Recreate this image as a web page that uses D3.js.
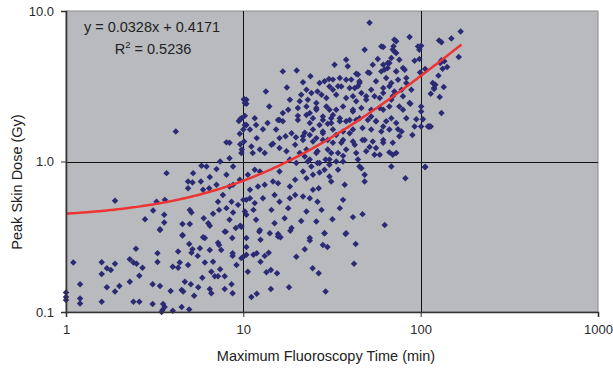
<!DOCTYPE html>
<html><head><meta charset="utf-8">
<script src="https://cdn.jsdelivr.net/npm/d3@7"></script>
<style>
body{margin:0;background:#fff;}
svg{display:block;font-family:"Liberation Sans",Arial,Helvetica,sans-serif;}
</style></head>
<body><svg id="c" width="613" height="369"></svg>
<script>
// Maximum fluoroscopy time (min) and peak skin dose (Gy), one pair per procedure
const timeMin = [
1,1,1,1.1,1.2,1.2,1.2,1.59,1.59,1.59,1.7,1.7,1.79,1.89,1.89,2.0,2.29,2.29,2.4,2.48,2.5,2.4,2.59,2.59,2.7,3.08,3.08,3.28,3.28,3.39,3.39,3.53,3.6,3.5,3.46,3.89,4.0,4.0,4.29,4.29,4.38,4.54,4.49,4.58,4.49,4.68,4.88,4.95,4.95,5.06,5.17,5.1,5.28,5.53,5.57,5.69,5.87,6.07,6.07,6.47,6.47,6.6,6.6,6.75,6.9,7.2,7.3,7.2,7.4,7.5,7.85,7.85,7.96,8.66,8.7,8.7,8.58,8.7,9.15,9.75,10.0,10.4,10.4,10.6,
10.4,11.1,11.9,11.4,11.9,12.5,13.2,13.9,13.5,14.3,15.5,14.3,18.1,12.3,12.5,14.1,15.7,16.2,18.4,19.9,22.2,23.7,24.6,26.6,28.1,29.8,28.7,29.1,37.7,43,42.1,
4.16,1.89,3.69,5.21,5.81,6.2,7.4,7.06,8.36,8.75,8.03,8.36,9.55,9.75,9.44,4.88,5.17,5.76,6.47,6.42,4.88,5.93,7.06,8.03,8.36,8.75,9.55,3.61,3.24,3.1,2.79,3.58,3.58,3.39,4.99,5.1,4.54,4.99,5.98,6.34,6.47,6.75,7.3,8.03,8.36,8.75,9.06,9.34,9.6,8.58,7.67,7.2,5.93,4.54,7.85,10.4,9.8,9.6,
16.7,20.3,23.7,26.9,31.3,38,43.3,56,61.5,74.5,100.6,110,89.8,10.9,12.9,11.9,10.1,14.7,16.0,17.3,18.7,19.8,21.7,23.7,25.8,28.1,29.9,33.4,35.7,39.8,42.5,48.3,51.5,56,54.9,61.5,66.6,72.8,11.3,13.2,16.0,19.6,20.8,22.2,25.8,29.1,31.3,36.5,68.3,46.3,48.3,48.3,82,106,10.6,11.6,12.4,10.9,12.1,13.2,14.7,15.7,18.3,19.6,21.7,22.7,24.7,26.9,30.6,34.2,31.3,37.3,24.7,26.6,10,10.9,11.6,12.9,15,16,18.3,19.6,21.7,23.7,26.2,36.5,10.2,11.4,14.4,17.9,22.7,27.6,35,41.5,47,31.8,25.8,21.2,17.1,15,11.8,10.4,62.7,18.7,12.4,9.75,15.7,28.7,38,23.7,
10.4,10,11.8,13.7,15.3,16,14.4,11.1,12.4,16,17.5,18.3,19.9,23.1,24.2,26.2,28.7,30.6,33.4,
51.5,86.6,100.6,98.3,71.1,70.3,71.1,61.5,48.3,57.3,65.2,68.3,75.8,92.4,98.3,38,38.8,32.7,62.7,72.8,79.5,16.7,20,23.9,21.7,26.9,30.4,35,38,43.3,50.4,45.2,56,63.9,68.3,74.5,83,88.6,99.2,119,117,13.4,17.6,22.7,26.2,30.6,35.7,42.5,52.6,61.5,71.1,10.4,18.3,21.2,23.1,25.8,29.4,33.4,38,43.3,49.3,58.8,68.3,79.5,10.2,14,17.9,20.3,30.6,36.5,41.5,61.5,79.5,87.5,100.6,100.6,11.6,15.7,22.7,28.1,35,52.6,68.3,94.5,112,9.75,10.1,16.7,20.3,23.7,25.8,32,29.9,
168,149,127,131,164,131,136,129,141,133,106,126,121,135,119,114,128,131,103,111,114,106,
10.1,10.4,9.6,10.2,10.2,
72.8,69.6,72.8,60,96.6,61.5,66.6,53.7,60,65.2,72.8,81.3,83,51.5,44.3,45.2,40.6,32,28.7,27.6,24.2,32,34.2,39.8,44.3,46.3,41.5,49.3,54.9,61.5,66.6,69.6,78,86.6,75.8,66.6,58.8,52.6,46.3,41.5,33.4,29.4,25.8,22.7,20.8,24.7,28.1,31.3,35,39.8,45.2,50.4,56,63.9,72.8,83,92.4,78,66.6,60,52.6,47,41.5,36.5,32,28.1,24.7,22.2,21.7,24.7,28.1,32,36.5,41.5,47,53.7,61.5,69.6,75.8,22.7,26.2,29.9,34.2,38,43.3,49.3,58.8,44.3,36.5,30.6,26.9,23.7,69.6,45.2
];
const doseGy = [
0.135,0.126,0.12,0.213,0.153,0.123,0.114,0.214,0.179,0.117,0.195,0.146,0.19,0.209,0.137,0.149,0.224,0.159,0.213,0.263,0.209,0.117,0.174,0.117,0.197,0.153,0.113,0.246,0.215,0.149,0.35,0.113,0.108,0.103,0.1,0.138,0.2,0.102,0.252,0.197,0.213,0.322,0.14,0.137,0.108,0.159,0.205,0.283,0.104,0.153,0.261,0.248,0.128,0.236,0.146,0.265,0.169,0.31,0.213,0.258,0.142,0.185,0.133,0.216,0.173,0.289,0.279,0.173,0.192,0.258,0.173,0.142,0.342,0.31,0.246,0.236,0.153,0.133,0.205,0.228,0.233,0.24,0.27,0.185,
0.31,0.126,0.132,0.24,0.246,0.216,0.236,0.248,0.184,0.19,0.181,0.142,0.146,0.342,0.302,0.334,0.33,0.314,0.346,0.233,0.261,0.299,0.195,0.181,0.279,0.27,0.334,0.137,0.33,0.283,0.209,
1.58,0.548,0.837,0.837,0.936,0.926,1.0,0.89,1.05,0.926,1.34,1.33,1.53,1.14,1.86,0.736,0.725,0.736,0.788,0.665,0.665,0.648,0.7,0.816,0.682,0.7,0.756,0.556,0.541,0.472,0.414,0.442,0.393,0.355,0.477,0.458,0.385,0.385,0.42,0.389,0.374,0.449,0.477,0.49,0.41,0.458,0.361,0.515,0.374,0.541,0.6,0.541,0.314,0.325,0.342,0.556,1.2,1.3,
1.85,1.89,1.8,1.75,1.8,1.85,1.89,1.85,1.71,1.64,1.71,1.71,1.5,1.63,1.64,1.43,1.36,1.31,1.43,1.47,1.54,1.45,1.47,1.5,1.43,1.54,1.39,1.5,1.33,1.54,1.29,1.39,1.25,1.23,1.11,1.33,1.15,1.14,1.14,1.14,0.858,1.29,1.14,1.08,1.14,1.03,1.14,1.09,0.926,0.903,0.816,0.736,0.775,0.918,0.816,0.88,0.858,0.648,0.682,0.7,0.736,0.718,0.682,0.756,0.858,0.775,0.816,0.845,0.795,0.88,0.736,0.7,0.648,0.665,0.556,0.57,0.529,0.57,0.6,0.541,0.57,0.6,0.585,0.57,0.541,0.556,0.465,0.477,0.477,0.49,0.465,0.477,0.49,0.427,0.447,0.414,0.399,0.403,0.42,0.389,0.41,0.442,0.379,0.361,0.35,0.369,0.317,0.334,0.334,0.31,
1.75,1.63,1.75,1.8,1.63,1.89,1.29,1.26,1.2,1.23,1.17,1.03,0.976,1.0,0.926,0.976,0.88,0.951,1.0,
8.35,6.72,5.88,5.53,6.43,5.83,5.39,5.76,5.53,4.79,4.51,4.87,4.74,4.67,4.79,4.74,4.29,4.4,4.08,3.97,4.18,3.97,4.03,3.68,3.36,3.32,3.53,3.59,3.49,3.83,3.91,3.32,3.41,3.59,3.32,3.49,3.32,3.0,3.91,3.08,3.32,2.92,3.1,3.0,2.92,3.15,3.15,3.08,3.0,3.08,2.92,2.57,2.57,2.78,2.57,2.45,2.64,2.78,2.64,2.51,2.71,2.64,2.57,2.71,2.45,2.32,2.21,2.27,2.21,2.32,2.21,2.21,2.21,2.42,2.32,2.15,1.94,1.89,2.04,1.99,1.94,1.99,1.94,1.91,1.71,1.94,2.57,2.1,2.01,2.1,2.21,2.04,1.78,
7.32,6.56,6.37,6.19,4.95,4.7,4.63,4.51,4.24,4.14,4.12,3.72,3.24,3.13,3.03,2.82,2.68,2.1,1.91,1.71,1.71,0.918,
2.6,2.42,1.91,2.01,1.75,
6.29,5.54,5.26,5.82,5.82,4.4,4.51,4.4,3.97,4.18,3.97,4.07,3.59,3.87,3.78,3.41,3.5,3.5,3.41,2.78,2.85,3.0,3.16,3.08,3.16,2.85,2.71,2.57,2.71,2.85,3.16,2.71,3.0,2.45,2.32,2.32,2.27,2.21,2.27,2.15,2.21,2.32,2.27,2.32,2.51,1.94,1.89,1.94,1.85,1.89,1.94,1.89,1.85,1.85,1.8,1.94,1.71,1.58,1.63,1.58,1.63,1.67,1.63,1.58,1.63,1.58,1.63,1.55,1.39,1.36,1.39,1.33,1.39,1.36,1.39,1.36,1.39,1.33,1.47,1.2,1.17,1.2,1.14,1.2,1.14,1.17,1.11,1.03,1.0,1.03,0.976,1.03,1.11,0.926
];
// Linear trend fitted in the original: y = 0.0328x + 0.4171, R² = 0.5236
const trendSlope = 0.0328, trendIntercept = 0.4171, trendR2 = 0.5236;
const xTicks = [1,10,100,1000];
const yTicks = [0.1,1,10];

const svg = d3.select("#c");
const L=66, R=598, T=11, B=312;
const x = d3.scaleLog().domain([1,1000]).range([L,R]);
const y = d3.scaleLog().domain([0.1,10]).range([B,T]);

svg.append("rect").attr("x",L).attr("y",T).attr("width",R-L).attr("height",B-T)
  .attr("fill","#b9babe").attr("stroke","#8a8a8a").attr("stroke-width",1);

// grid
svg.append("g").selectAll("line").data(xTicks.filter(d=>d>1&&d<1000)).join("line")
  .attr("x1",d=>Math.round(x(d))+0.5).attr("x2",d=>Math.round(x(d))+0.5).attr("y1",T).attr("y2",B)
  .attr("stroke","#111").attr("stroke-width",1);
svg.append("g").selectAll("line").data(yTicks.filter(d=>d>0.1&&d<10)).join("line")
  .attr("y1",d=>Math.round(y(d))+0.5).attr("y2",d=>Math.round(y(d))+0.5).attr("x1",L).attr("x2",R)
  .attr("stroke","#111").attr("stroke-width",1);

// points
const pts = timeMin.map((t,i)=>[t,doseGy[i]]);
const sym = d3.symbol().type(d3.symbolSquare).size(21);
svg.append("g").selectAll("path").data(pts).join("path")
  .attr("d",sym)
  .attr("transform",d=>`translate(${x(d[0])},${y(d[1])}) rotate(45)`)
  .attr("fill","#2b2a74");

// trend line
const tx = d3.range(0, Math.log10(170)+0.0001, 0.01).map(v=>Math.pow(10,v));
svg.append("path").datum(tx)
  .attr("d",d3.line().x(d=>x(d)).y(d=>y(trendSlope*d+trendIntercept)))
  .attr("fill","none").attr("stroke","#ee3333").attr("stroke-width",2.5);

// axes
const ax = svg.append("g").attr("transform",`translate(0,${B})`)
  .call(d3.axisBottom(x).tickValues(xTicks).tickFormat(d3.format("d")).tickSize(5).tickPadding(8));
const ay = svg.append("g").attr("transform",`translate(${L},0)`)
  .call(d3.axisLeft(y).tickValues(yTicks).tickFormat(d3.format(".1f")).tickSize(5).tickPadding(7));
[ax,ay].forEach(g=>{
  g.select(".domain").attr("stroke","#333").attr("stroke-width",1.6);
  g.selectAll(".tick line").attr("stroke","#333");
  g.selectAll("text").attr("font-size",13).attr("fill","#2a2a2a")
   .attr("font-family","\"Liberation Sans\",Arial,sans-serif");
});

// equation
svg.append("text").attr("x",152).attr("y",32).attr("text-anchor","middle")
  .attr("font-size",14.5).attr("fill","#222")
  .text(`y = ${trendSlope}x + ${trendIntercept}`);
const r = svg.append("text").attr("x",153).attr("y",54).attr("text-anchor","middle")
  .attr("font-size",14.5).attr("fill","#222");
r.append("tspan").text("R");
r.append("tspan").attr("dy",-6).attr("font-size",9.5).text("2");
r.append("tspan").attr("dy",6).text(` = ${trendR2}`);

// axis titles
svg.append("text").attr("x",326).attr("y",361).attr("text-anchor","middle")
  .attr("font-size",14.5).attr("fill","#222").text("Maximum Fluoroscopy Time (min)");
svg.append("text").attr("transform","translate(22,182) rotate(-90)").attr("text-anchor","middle")
  .attr("font-size",14.5).attr("fill","#222").text("Peak Skin Dose (Gy)");
</script></body></html>
